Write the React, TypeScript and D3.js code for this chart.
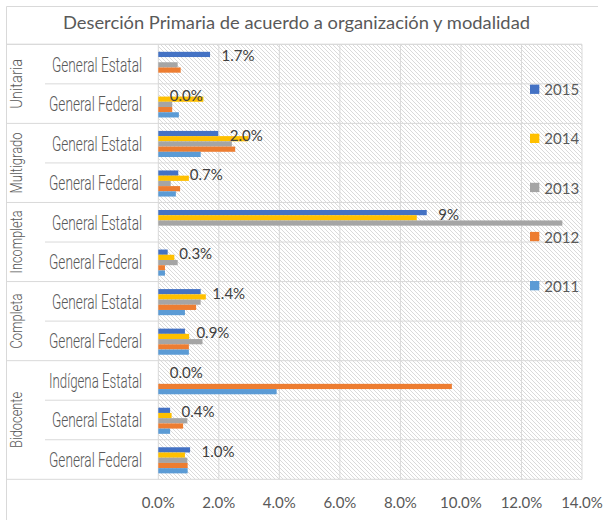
import React from "react";
import * as d3 from "d3";

const title = "Deserción Primaria de acuerdo a organización y modalidad";
const categoryGroups = ["Unitaria","Unitaria","Multigrado","Multigrado","Incompleta","Incompleta","Completa","Completa","Bidocente","Bidocente","Bidocente"];
const categoryNames = ["General Estatal","General Federal","General Estatal","General Federal","General Estatal","General Federal","General Estatal","General Federal","Indígena Estatal","General Estatal","General Federal"];
const years = ["2015","2014","2013","2012","2011"];
const s2015 = [1.71, 0, 1.98, 0.66, 8.87, 0.31, 1.40, 0.88, 0, 0.39, 1.05];
const s2014 = [0, 1.49, 2.97, 1.01, 8.54, 0.53, 1.57, 1.02, 0, 0.44, 0.88];
const s2013 = [0.64, 0.46, 2.43, 0.41, 13.35, 0.64, 1.40, 1.46, 0, 0.96, 0.96];
const s2012 = [0.74, 0.46, 2.54, 0.72, 0, 0.22, 1.25, 1.01, 9.70, 0.82, 0.97];
const s2011 = [0, 0.68, 1.40, 0.58, 0, 0.22, 0.88, 1.01, 3.91, 0.39, 0.97];
const dataLabels = ["1.7%","0.0%","2.0%","0.7%","9%","0.3%","1.4%","0.9%","0.0%","0.4%","1.0%"];
const xTicks = [0, 2, 4, 6, 8, 10, 12, 14];
const colors = ["#4472C4", "#FFC000", "#A5A5A5", "#ED7D31", "#5B9BD5"];

const seriesValues = [s2015, s2014, s2013, s2012, s2011];

export default function App() {
  const W = 605, H = 520;
  const plotL = 158.3, plotR = 582, plotT = 44.3, plotB = 479.3;
  const x = d3.scaleLinear().domain([0, 14]).range([plotL, plotR]);
  const idx = categoryNames.map((_, i) => i);
  const y = d3.scaleBand<number>().domain(idx).range([plotT, plotB]).padding(0);
  const bw = y.bandwidth();
  const inner = d3.scaleBand<string>().domain(years).range([0.19 * bw, 0.85 * bw]).padding(0);
  const gridColor = "#d9d9d9";
  const textColor = "#595959";
  const font = "Lato, 'Liberation Sans', sans-serif";
  const condFont = "Roboto, 'Liberation Sans Narrow', 'Liberation Sans', sans-serif";

  const groupNames: string[] = [];
  categoryGroups.forEach(g => { if (!groupNames.includes(g)) groupNames.push(g); });
  const groupExtents = groupNames.map(g => {
    const rows = idx.filter(i => categoryGroups[i] === g);
    const top = y(rows[0])!;
    const bottom = y(rows[rows.length - 1])! + bw;
    return { g, top, bottom };
  });
  const groupLabelLen: Record<string, number> = { Unitaria: 50, Multigrado: 61, Incompleta: 63, Completa: 55, Bidocente: 56 };
  const catLabelLen: Record<string, number> = { "General Estatal": 90, "General Federal": 93, "Indígena Estatal": 93 };

  return (
    <svg width={W} height={H} style={{ position: "absolute", left: 0, top: 0, background: "#fff" }}>
      <defs>
        <pattern id="hatch" width="4" height="4" patternUnits="userSpaceOnUse">
          <rect width="4" height="4" fill="#ffffff" />
          <path d="M-1,-1 L5,5 M-1,3 L1,5 M3,-1 L5,1" stroke="#dadada" strokeWidth="1" />
        </pattern>
      </defs>
      <line x1={6.5} y1={6.5} x2={598} y2={6.5} stroke={gridColor} />
      <line x1={6.5} y1={6.5} x2={6.5} y2={H} stroke={gridColor} />
      <text x={296.5} y={29.3} textAnchor="middle" fontFamily={font} fontSize={17} fill={textColor}
        textLength={467} lengthAdjust="spacingAndGlyphs">{title}</text>
      <rect x={plotL} y={plotT} width={plotR - plotL} height={plotB - plotT} fill="url(#hatch)" />
      {xTicks.map(t => (
        <line key={"vg" + t} x1={x(t)} x2={x(t)} y1={plotT} y2={plotB} stroke={gridColor} strokeWidth={1} />
      ))}
      {idx.map(i => (
        <line key={"hg" + i} x1={plotL} x2={plotR} y1={y(i)!} y2={y(i)!} stroke={gridColor} />
      ))}
      <line x1={6.5} x2={plotR} y1={plotB} y2={plotB} stroke={gridColor} />
      <line x1={6.5} x2={plotR} y1={plotT} y2={plotT} stroke={gridColor} />
      {idx.map(i => {
        const isGroupStart = i === 0 || categoryGroups[i] !== categoryGroups[i - 1];
        return (
          <line key={"lr" + i} x1={isGroupStart ? 6.5 : 45} x2={plotL} y1={y(i)!} y2={y(i)!} stroke={gridColor} />
        );
      })}
      {seriesValues.map((vals, si) =>
        vals.map((v, i) => (
          v > 0 ? (
            <rect key={"b" + si + "-" + i} x={x(0)} y={y(i)! + inner(years[si])!} width={x(v) - x(0)}
              height={inner.bandwidth()} fill={colors[si]} />
          ) : null
        ))
      )}
      {s2015.map((v, i) => (
        <text key={"dl" + i} x={x(v) + 11.5} y={y(i)! + inner(years[0])! + inner.bandwidth() / 2 + 1}
          dominantBaseline="central" fontFamily={font} fontSize={15} fill="#404040">{dataLabels[i]}</text>
      ))}
      {idx.map(i => (
        <text key={"cl" + i} x={142} y={y(i)! + bw / 2 + 7.5} textAnchor="end" fontFamily={condFont}
          fontWeight={300} fontSize={21} fill={textColor} textLength={catLabelLen[categoryNames[i]]} lengthAdjust="spacingAndGlyphs">
          {categoryNames[i]}
        </text>
      ))}
      {groupExtents.map(ge => {
        const cy = (ge.top + ge.bottom) / 2;
        return (
          <text key={"gl" + ge.g} transform={`translate(21.5,${cy}) rotate(-90)`} textAnchor="middle"
            fontFamily={condFont} fontWeight={300} fontSize={17} fill={textColor}
            textLength={groupLabelLen[ge.g]} lengthAdjust="spacingAndGlyphs">{ge.g}</text>
        );
      })}
      {xTicks.map(t => (
        <text key={"xt" + t} x={x(t)} y={507.5} textAnchor="middle" fontFamily={font} fontSize={15} fill={textColor}>
          {d3.format(".1f")(t) + "%"}
        </text>
      ))}
      {years.map((yr, i) => {
        const cy = 89.3 + i * 49.1;
        return (
          <g key={"lg" + yr}>
            <rect x={530} y={cy - 4.7} width={9.3} height={9.3} fill={colors[i]} />
            <text x={544.3} y={cy} dominantBaseline="central" fontFamily={font} fontSize={15} fill={textColor}>{yr}</text>
          </g>
        );
      })}
    </svg>
  );
}
